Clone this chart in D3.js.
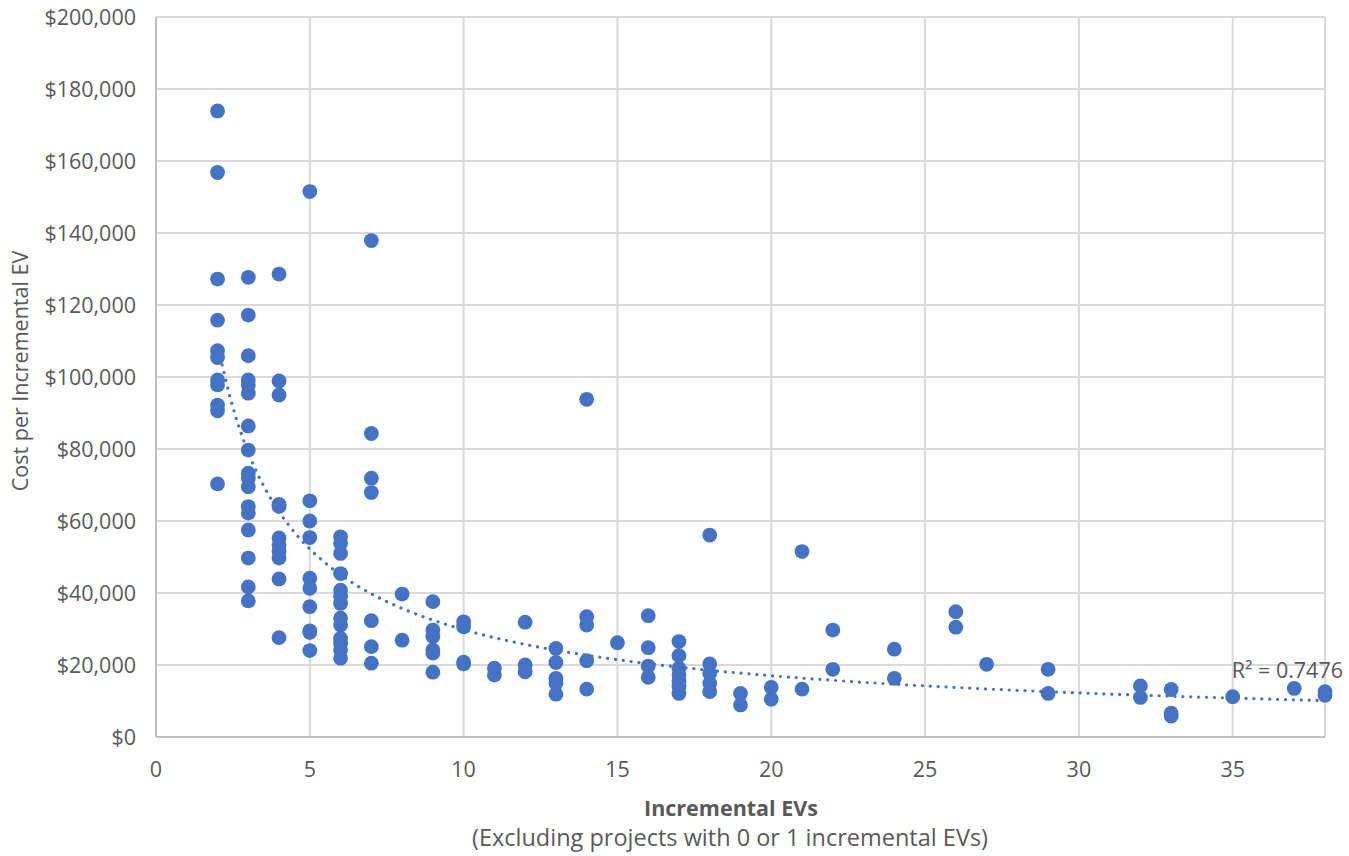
<!DOCTYPE html>
<html>
<head>
<meta charset="utf-8">
<script src="https://cdn.jsdelivr.net/npm/d3@7.9.0/dist/d3.min.js"></script>
<style>
  body { margin: 0; background: #fff; }
  svg text { font-family: "Open Sans", sans-serif; fill: #595959; }
</style>
</head>
<body>
<svg id="chart" width="1349" height="856"></svg>
<script>
// Incremental EVs per project (x) and cost per incremental EV in $ thousands (y)
const evs = [
  2, 2, 2, 2, 2, 2, 2, 2, 2, 2, 2,
  3, 3, 3, 3, 3, 3, 3, 3, 3, 3, 3, 3, 3, 3, 3, 3, 3,
  4, 4, 4, 4, 4, 4, 4, 4, 4, 4, 4,
  5, 5, 5, 5, 5, 5, 5, 5, 5, 5,
  6, 6, 6, 6, 6, 6, 6, 6, 6, 6, 6, 6, 6,
  7, 7, 7, 7, 7, 7, 7,
  8, 8,
  9, 9, 9, 9, 9, 9,
  10, 10, 10, 10,
  11, 11,
  12, 12, 12,
  13, 13, 13, 13, 13,
  14, 14, 14, 14, 14,
  15,
  16, 16, 16, 16,
  17, 17, 17, 17, 17, 17, 17,
  18, 18, 18, 18, 18,
  19, 19,
  20, 20,
  21, 21,
  22, 22,
  24, 24,
  26, 26,
  27,
  29, 29,
  32, 32,
  33, 33, 33,
  35,
  37,
  38, 38
];
const costK = [
  173.9, 156.8, 127.2, 115.8, 107.3, 105.4, 99.2, 97.8, 92.2, 90.6, 70.3,
  127.7, 117.2, 105.9, 99.2, 97.8, 95.5, 86.4, 79.7, 73.3, 71.9, 69.5, 64.0, 62.2, 57.5, 49.7, 41.7, 37.8,
  128.6, 98.9, 95.0, 64.6, 64.0, 55.3, 53.3, 51.5, 49.7, 43.9, 27.6,
  151.5, 65.6, 60.0, 55.4, 44.1, 41.3, 36.2, 29.5, 29.0, 24.0,
  55.6, 53.8, 51.0, 45.4, 40.8, 39.0, 37.1, 33.0, 31.1, 27.4, 26.0, 24.2, 21.9,
  137.9, 84.3, 71.9, 67.9, 32.3, 25.1, 20.5,
  39.7, 26.9,
  37.6, 29.7, 27.9, 24.2, 23.3, 18.0,
  32.0, 30.6, 20.8, 20.3,
  19.1, 17.2,
  31.9, 20.0, 18.1,
  24.6, 20.7, 16.3, 14.9, 11.9,
  93.8, 33.4, 31.1, 21.2, 13.3,
  26.2,
  33.7, 24.8, 19.7, 16.6,
  26.5, 22.6, 19.1, 17.2, 15.4, 14.0, 12.1,
  56.1, 20.3, 17.7, 14.9, 12.6,
  12.1, 8.9,
  13.8, 10.5,
  51.5, 13.3,
  29.7, 18.8,
  24.4, 16.3,
  34.8, 30.5,
  20.2,
  18.8, 12.1,
  14.2, 11.0,
  13.2, 6.6, 5.8,
  11.2,
  13.5,
  12.6, 11.6
];

const xTicks = [0, 5, 10, 15, 20, 25, 30, 35];
const yTicks = [0, 20000, 40000, 60000, 80000, 100000, 120000, 140000, 160000, 180000, 200000];

// power trendline y = a * x^b as shown on the chart
const trendA = 192000;
const trendB = -0.809;
const trendRange = [2.15, 38];
const rSquaredLabel = "R² = 0.7476";

const points = evs.map((x, i) => ({ x: x, y: costK[i] * 1000 }));

const svg = d3.select('#chart');
const margin = { left: 156, right: 24, top: 17, bottom: 119 };
const width = 1349 - margin.left - margin.right;
const height = 856 - margin.top - margin.bottom;

const x = d3.scaleLinear().domain([0, 38]).range([0, width]);
const y = d3.scaleLinear().domain([0, 200000]).range([height, 0]);

const g = svg.append('g').attr('transform', `translate(${margin.left},${margin.top})`);

// gridlines
g.selectAll('.hgrid').data(yTicks.slice(1)).enter().append('line')
  .attr('x1', 0).attr('x2', width)
  .attr('y1', d => y(d)).attr('y2', d => y(d))
  .attr('stroke', '#d9d9d9').attr('stroke-width', 2);
g.selectAll('.vgrid').data(xTicks.slice(1).concat([38])).enter().append('line')
  .attr('x1', d => x(d)).attr('x2', d => x(d))
  .attr('y1', 0).attr('y2', height)
  .attr('stroke', '#d9d9d9').attr('stroke-width', 2);

// axis lines
g.append('line').attr('x1', 0).attr('x2', 0).attr('y1', 0).attr('y2', height)
  .attr('stroke', '#bfbfbf').attr('stroke-width', 2);
g.append('line').attr('x1', 0).attr('x2', width).attr('y1', height).attr('y2', height)
  .attr('stroke', '#bfbfbf').attr('stroke-width', 2);

// tick labels
const money = d3.format('$,.0f');
g.selectAll('.ylab').data(yTicks).enter().append('text')
  .attr('x', -20).attr('y', d => y(d)).attr('dy', '0.36em')
  .attr('text-anchor', 'end').attr('font-size', 21.5)
  .text(d => money(d));
g.selectAll('.xlab').data(xTicks).enter().append('text')
  .attr('x', d => x(d)).attr('y', height + 40)
  .attr('text-anchor', 'middle').attr('font-size', 21.5)
  .text(d => d);

// points
g.selectAll('circle').data(points).enter().append('circle')
  .attr('cx', d => x(d.x)).attr('cy', d => y(d.y))
  .attr('r', 7.4)
  .attr('fill', '#4472c4');

// dotted trendline
const trend = d3.range(trendRange[0], trendRange[1] + 0.01, 0.25)
  .map(v => ({ x: v, y: trendA * Math.pow(v, trendB) }));
g.append('path')
  .datum(trend)
  .attr('d', d3.line().x(d => x(d.x)).y(d => y(d.y)))
  .attr('fill', 'none')
  .attr('stroke', '#4472c4')
  .attr('stroke-width', 3.2)
  .attr('stroke-linecap', 'round')
  .attr('stroke-dasharray', '0.1 7.8');

// R² label
g.append('text')
  .attr('x', x(38) + 18).attr('y', y(16400))
  .attr('text-anchor', 'end').attr('font-size', 21.5)
  .text(rSquaredLabel);

// axis titles
svg.append('text')
  .attr('transform', 'translate(28,371) rotate(-90)')
  .attr('text-anchor', 'middle').attr('font-size', 21.5)
  .text('Cost per Incremental EV');
svg.append('text')
  .attr('x', 731).attr('y', 816)
  .attr('text-anchor', 'middle').attr('font-size', 21.5).attr('font-weight', 'bold')
  .text('Incremental EVs');
svg.append('text')
  .attr('x', 730).attr('y', 846)
  .attr('text-anchor', 'middle').attr('font-size', 23.5)
  .text('(Excluding projects with 0 or 1 incremental EVs)');
</script>
</body>
</html>
